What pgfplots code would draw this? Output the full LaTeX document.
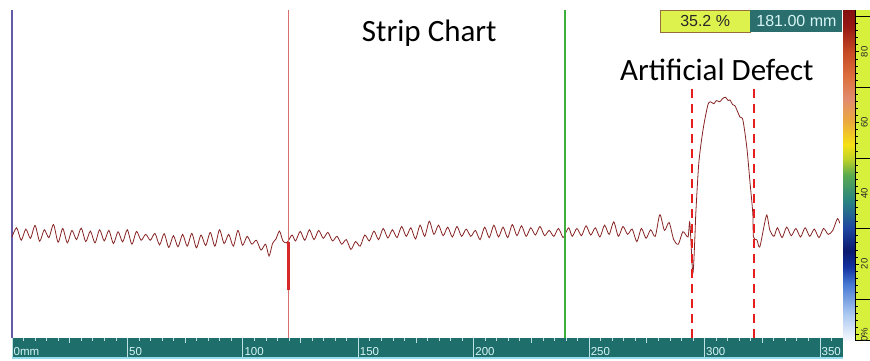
\documentclass[border=0pt]{standalone}
\usepackage{pgfplots}
\pgfplotsset{compat=1.18}
\usepackage{fontspec}
\setmainfont{Carlito}
\newfontfamily\arialfont{Liberation Sans}
\definecolor{sig}{RGB}{135,35,35}
\definecolor{barteal}{RGB}{30,110,108}
\definecolor{tealbox}{RGB}{42,110,110}
\definecolor{yelbox}{RGB}{222,242,78}
\definecolor{yelborder}{RGB}{150,110,60}
\definecolor{rulery}{RGB}{214,240,60}
\definecolor{leftline}{RGB}{100,90,170}
\definecolor{redthin}{RGB}{216,112,112}
\definecolor{redthick}{RGB}{214,40,40}
\definecolor{mygreen}{RGB}{60,175,60}
\definecolor{dashred}{RGB}{230,30,30}
\definecolor{ticklab}{RGB}{215,245,245}
\definecolor{tickcol}{RGB}{190,225,225}
\definecolor{barbottom}{RGB}{150,220,235}
\definecolor{darktext}{RGB}{40,40,40}
\pgfplotsset{colormap={inst}{
 rgb255(0pt)=(245,248,252) rgb255(8pt)=(170,200,240) rgb255(17pt)=(70,120,210)
 rgb255(22pt)=(20,50,160) rgb255(27pt)=(10,25,110) rgb255(34pt)=(30,70,160)
 rgb255(42pt)=(40,130,130) rgb255(50pt)=(90,170,80) rgb255(55pt)=(190,210,40)
 rgb255(59pt)=(245,225,20) rgb255(66pt)=(235,170,60) rgb255(73pt)=(225,140,110)
 rgb255(80pt)=(220,110,60) rgb255(88pt)=(195,70,35) rgb255(95pt)=(150,25,20)
 rgb255(100pt)=(130,15,15)}}
\begin{document}
\begin{tikzpicture}
\useasboundingbox (0pt,0pt) rectangle (870pt,360pt);
% main strip chart
\begin{axis}[at={(12pt,22pt)}, anchor=south west, scale only axis,
  width=830pt, height=328pt, xmin=0, xmax=360, ymin=0, ymax=100,
  axis x line=none, axis y line*=left, xtick=\empty, ytick=\empty,
  y axis line style={draw=leftline, line width=1.5pt},
  clip=false]
\addplot[color=sig, line width=0.8pt, smooth, tension=0.45] coordinates {
(0,30.8) (2,33.6) (4,29.8) (6,33.2) (8,30.4) (10,34.3) (12,29.5) (14,33.0) (16,30.6) (18,34.6)
(20,29.2) (22,33.4) (24,29.0) (26,32.8) (28,30.0) (30,33.5) (32,29.4) (34,32.6) (36,29.0) (38,33.0)
(40,29.6) (42,32.8) (44,28.8) (46,32.4) (48,29.3) (50,33.0) (52,28.6) (54,32.5) (56,29.8) (58,31.6)
(60,29.8) (62,31.9) (64,28.4) (66,31.8) (68,27.6) (70,31.2) (72,27.8) (74,31.6) (76,28.0) (78,31.9)
(80,27.5) (82,31.4) (84,28.2) (86,32.2) (88,28.0) (90,33.0) (92,28.8) (94,31.6) (96,28.0) (98,32.8)
(100,28.3) (102,31.0) (104,28.6) (106,29.8) (108,26.8) (110,28.6) (111.5,25.0) (113,28.8) (114.5,30.2) (116,32.6)
(117.5,29.6) (119,29.0) (120,29.8) (121.5,31.4) (123,29.6) (125,32.5) (127,29.8) (129,33.0) (131,30.0) (133,32.8)
(135,30.4) (137,32.2) (139,29.6) (141,31.0) (143,28.6) (145,30.0) (147,27.0) (149,29.4) (151,28.0) (153,31.4)
(155,29.6) (157,32.6) (159,30.0) (161,33.4) (163,30.5) (165,33.0) (167,30.6) (169,34.0) (171,31.0) (173,33.6)
(175,30.2) (177,34.4) (179,31.0) (181,35.6) (183,31.6) (185,34.4) (187,31.2) (189,33.8) (191,30.8) (193,34.0)
(195,31.0) (197,33.2) (199,31.0) (201,32.8) (203,30.0) (205,33.8) (207,30.6) (209,34.4) (211,30.8) (213,33.8)
(215,30.6) (217,34.6) (219,31.2) (221,34.2) (223,31.0) (225,33.6) (227,31.4) (229,34.0) (231,31.2) (233,32.8)
(235,31.0) (237,33.4) (239,30.6) (240,31.8) (241.5,33.6) (243,31.0) (245,33.4) (247,31.2) (249,34.2) (251,31.4)
(253,33.6) (255,30.8) (257,34.4) (259,31.6) (261,35.4) (263,31.0) (265,34.0) (267,31.6) (269,33.2) (271,29.4)
(273,33.4) (275,30.4) (277,33.0) (279,31.0) (281,37.6) (283,32.8) (285,35.2) (287,30.0) (289,28.6) (291,32.4)
(293.2,30.8) (294.0,35.1) (295.3,19.8) (296.2,30.8) (296.6,38.1) (297.9,53.4) (299.7,63.4) (301.8,71.0) (303,72.0) (304.4,71.4)
(305.5,72.4) (307,72.0) (308.2,73.0) (309.5,73.4) (310.6,72.4) (311.4,72.6) (312.5,71.2) (313.6,70.8) (315.7,67.4) (317.0,66.5)
(318.7,58.2) (320.0,48.2) (321.3,38.1) (321.6,30.8) (323.1,29.9) (324.3,27.7) (326.1,33.8) (327.4,37.5) (328.7,32.9) (330.5,31.0)
(332,33.6) (334,30.6) (336,33.8) (338,31.2) (340,33.4) (342,30.8) (344,33.6) (346,31.0) (348,33.2) (350,30.6)
(352,33.4) (354,31.6) (356,32.8) (358,36.4) (359,35.0)
};
\addplot[draw=mygreen, line width=1.8pt] coordinates {(240,0) (240,100)};
\addplot[draw=redthin, line width=1pt] coordinates {(120,0) (120,100)};
\addplot[draw=redthick, line width=2.5pt] coordinates {(120,14.6) (120,29.3)};
\addplot[draw=dashred, line width=2.2pt, dash pattern=on 9pt off 6pt] coordinates {(295,0) (295,77)};
\addplot[draw=dashred, line width=2.2pt, dash pattern=on 9pt off 6pt] coordinates {(322,0) (322,77)};
\node[font=\fontsize{31}{36}\selectfont] at (axis cs:181,93) {Strip Chart};
\node[font=\fontsize{31}{36}\selectfont] at (axis cs:305.7,81.7) {Artificial Defect};
\node[anchor=north west, fill=yelbox, draw=yelborder, line width=0.6pt,
  minimum width=90pt, minimum height=22pt, inner sep=0pt,
  font=\arialfont\fontsize{16}{18}\selectfont, text=darktext] at (axis cs:281,100) {35.2 \%};
\node[anchor=north west, fill=tealbox, minimum width=92pt, minimum height=22pt, inner sep=0pt,
  font=\arialfont\fontsize{16}{18}\selectfont, text=ticklab] at (axis cs:320.2,100) {181.00 mm};
\end{axis}
% colour gradient strip
\begin{axis}[at={(843pt,20pt)}, anchor=south west, scale only axis,
  width=11pt, height=330pt, xmin=0, xmax=1, ymin=0, ymax=100, hide axis,
  colormap name=inst, point meta min=0, point meta max=100]
\addplot[surf, shader=interp, point meta=y] coordinates {
(0,0) (1,0)

(0,8) (1,8)

(0,17) (1,17)

(0,22) (1,22)

(0,27) (1,27)

(0,34) (1,34)

(0,42) (1,42)

(0,50) (1,50)

(0,55) (1,55)

(0,59) (1,59)

(0,66) (1,66)

(0,73) (1,73)

(0,80) (1,80)

(0,88) (1,88)

(0,95) (1,95)

(0,100) (1,100)
};
\end{axis}
% bottom ruler
\begin{axis}[at={(12pt,2pt)}, anchor=south west, scale only axis,
  width=831pt, height=20pt, xmin=0, xmax=360, ymin=0, ymax=1,
  axis background/.style={fill=barteal},
  axis line style={draw=none}, ytick=\empty,
  xtick={0,50,...,350}, xticklabels={}, minor xtick={5,10,...,355},
  extra x ticks={25,75,...,325}, extra x tick labels={},
  extra x tick style={major tick length=5pt},
  xtick pos=right, tick align=inside,
  major tick length=20pt, minor tick length=3pt,
  tick style={draw=tickcol, line width=0.7pt},
  clip=false]
\draw[draw=barbottom, line width=1.5pt] (axis cs:0,0) -- (axis cs:360,0);
\begin{scope}[every node/.style={anchor=south west, inner sep=0pt, xshift=1.5pt, yshift=2pt, font=\arialfont\fontsize{11.5}{12}\selectfont, text=ticklab}]
\node at (axis cs:0,0) {0mm};
\node at (axis cs:50,0) {50};
\node at (axis cs:100,0) {100};
\node at (axis cs:150,0) {150};
\node at (axis cs:200,0) {200};
\node at (axis cs:250,0) {250};
\node at (axis cs:300,0) {300};
\node at (axis cs:350,0) {350};
\end{scope}
\end{axis}
% right ruler of colour scale
\begin{axis}[at={(855pt,20pt)}, anchor=south west, scale only axis,
  width=15pt, height=330pt, xmin=0, xmax=1, ymin=-1.5, ymax=91.8,
  axis background/.style={fill=rulery},
  axis x line*=bottom, axis y line*=left, xtick=\empty,
  ytick={0,20,...,80}, yticklabels={}, minor ytick={2,4,...,90},
  extra y ticks={10,30,50,70,90}, extra y tick labels={},
  extra y tick style={major tick length=15pt},
  tick align=inside, major tick length=4pt, minor tick length=2.5pt,
  tick style={black, line width=0.5pt},
  axis line style={black, line width=0.8pt}, clip=false]
\begin{scope}[every node/.style={rotate=90, inner sep=0pt, font=\arialfont\fontsize{9.5}{10}\selectfont, text=darktext}]
\node at (axis cs:0.62,0) {0\%};
\node at (axis cs:0.62,20) {20};
\node at (axis cs:0.62,40) {40};
\node at (axis cs:0.62,60) {60};
\node at (axis cs:0.62,80) {80};
\end{scope}
\end{axis}
\end{tikzpicture}
\end{document}
